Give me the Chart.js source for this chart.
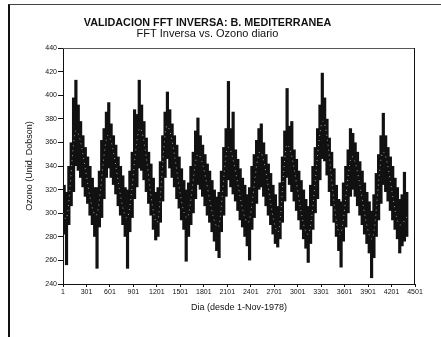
<!DOCTYPE html>
<html>
<head>
<meta charset="utf-8">
<script src="https://cdn.jsdelivr.net/npm/chart.js"></script>
<style>
    body { margin: 0; background: #fff; }
    #frame {
        position: absolute;
        left: 8px;
        top: 4px;
        width: 433px;
        height: 333px;
        border-left: 2px solid #111;
        border-top: 1px solid #444;
        box-sizing: border-box;
    }
    #chart { position: absolute; left: 0; top: 0; }
</style>
</head>
<body>
<div id="frame"></div>
<canvas id="chart" width="441" height="337"></canvas>
<script>
// centro de cada tramo de 30 dias (dia desde 1-Nov-1978)
const dias = [
    16, 46, 76, 106, 136, 166, 196, 226, 256, 286,
    316, 346, 376, 406, 436, 466, 496, 526, 556, 586,
    616, 646, 676, 706, 736, 766, 796, 826, 856, 886,
    916, 946, 976, 1006, 1036, 1066, 1096, 1126, 1156, 1186,
    1216, 1246, 1276, 1306, 1336, 1366, 1396, 1426, 1456, 1486,
    1516, 1546, 1576, 1606, 1636, 1666, 1696, 1726, 1756, 1786,
    1816, 1846, 1876, 1906, 1936, 1966, 1996, 2026, 2056, 2086,
    2116, 2146, 2176, 2206, 2236, 2266, 2296, 2326, 2356, 2386,
    2416, 2446, 2476, 2506, 2536, 2566, 2596, 2626, 2656, 2686,
    2716, 2746, 2776, 2806, 2836, 2866, 2896, 2926, 2956, 2986,
    3016, 3046, 3076, 3106, 3136, 3166, 3196, 3226, 3256, 3286,
    3316, 3346, 3376, 3406, 3436, 3466, 3496, 3526, 3556, 3586,
    3616, 3646, 3676, 3706, 3736, 3766, 3796, 3826, 3856, 3886,
    3916, 3946, 3976, 4006, 4036, 4066, 4096, 4126, 4156, 4186,
    4216, 4246, 4276, 4306, 4336, 4366, 4396
];

// ozono diario: minimo y maximo de cada tramo
const ozonoMin = [
    282, 256, 290, 306, 318, 340, 336, 330, 322, 314,
    308, 298, 290, 280, 253, 288, 296, 312, 330, 338,
    330, 324, 316, 306, 298, 290, 280, 253, 284, 296,
    312, 322, 338, 336, 328, 318, 308, 298, 286, 277,
    280, 292, 310, 330, 346, 338, 330, 322, 312, 304,
    294, 286, 259, 280, 290, 300, 312, 324, 320, 314,
    306, 298, 292, 284, 276, 268, 262, 284, 298, 314,
    328, 322, 316, 310, 302, 294, 288, 280, 272, 260,
    286, 296, 308, 320, 322, 314, 306, 298, 290, 282,
    274, 271, 278, 292, 310, 330, 324, 318, 310, 302,
    294, 286, 278, 270, 258, 274, 286, 300, 312, 328,
    346, 344, 332, 318, 306, 292, 280, 268, 254, 276,
    288, 300, 314, 320, 314, 306, 298, 290, 282, 274,
    266, 245, 262, 280, 294, 308, 324, 318, 310, 302,
    294, 286, 278, 266, 272, 276, 280
];
const ozonoMax = [
    324, 318, 340, 360, 398, 413, 392, 378, 366, 356,
    348, 340, 330, 322, 322, 336, 362, 372, 386, 394,
    376, 366, 358, 348, 340, 332, 322, 320, 336, 352,
    388, 384, 413, 392, 378, 364, 352, 342, 330, 318,
    322, 344, 366, 386, 403, 388, 376, 366, 358, 348,
    338, 328, 320, 326, 340, 352, 370, 381, 366, 358,
    350, 342, 336, 328, 320, 314, 318, 336, 356, 372,
    412, 372, 386, 354, 346, 338, 330, 324, 316, 322,
    340, 350, 362, 372, 376, 360, 350, 342, 334, 324,
    316, 306, 326, 348, 370, 406, 374, 378, 354, 346,
    336, 328, 320, 312, 306, 324, 340, 356, 372, 392,
    419, 398, 380, 364, 352, 338, 324, 312, 310, 326,
    340, 354, 372, 368, 360, 352, 344, 336, 326, 318,
    310, 302, 316, 334, 350, 366, 385, 366, 356, 348,
    340, 330, 322, 312, 316, 335, 318
];

// FFT inversa: maximos y minimos de la curva suavizada
const diasFFT = [1, 39, 167, 423, 576, 819, 985, 1203, 1330, 1586, 1727, 1983, 2110,
    2366, 2519, 2750, 2865, 3133, 3325, 3542, 3696, 3951, 4092, 4309, 4411];
const fftInversa = [300, 295, 370, 298, 366, 296, 372, 292, 374, 296, 350, 288, 356,
    292, 352, 284, 358, 282, 378, 282, 348, 278, 352, 290, 298];

const ticksX = [1, 301, 601, 901, 1201, 1501, 1801, 2101, 2401, 2701, 3001, 3301, 3601, 3901, 4201, 4501];

const FONT = 'Liberation Sans, Arial, sans-serif';

const plotFrame = {
    id: 'plotFrame',
    afterDraw(chart) {
        const {ctx, chartArea: a} = chart;
        ctx.save();
        ctx.lineWidth = 1;
        ctx.strokeStyle = '#555';
        ctx.beginPath();
        ctx.moveTo(a.left, a.top + 0.5);
        ctx.lineTo(a.right, a.top + 0.5);
        ctx.stroke();
        ctx.strokeStyle = '#111';
        ctx.beginPath();
        ctx.moveTo(a.right - 0.5, a.top);
        ctx.lineTo(a.right - 0.5, a.bottom);
        ctx.stroke();
        ctx.restore();
    }
};

new Chart(document.getElementById('chart'), {
    type: 'bar',
    data: {
        datasets: [{
            type: 'line',
            label: 'FFT Inversa',
            data: diasFFT.map((d, i) => ({x: d, y: fftInversa[i]})),
            borderColor: 'rgba(255,255,255,0.6)',
            borderWidth: 1,
            borderDash: [1, 4],
            pointRadius: 0,
            cubicInterpolationMode: 'monotone',
            order: 0
        }, {
            label: 'Ozono diario',
            data: dias.map((d, i) => ({x: d, y: [ozonoMin[i], ozonoMax[i]]})),
            backgroundColor: '#111',
            borderWidth: 0,
            barThickness: 3.2,
            inflateAmount: 0,
            order: 1
        }]
    },
    options: {
        responsive: false,
        animation: false,
        layout: { padding: { left: 0, right: 26, top: 0, bottom: 0 } },
        plugins: {
            legend: { display: false },
            tooltip: { enabled: false },
            title: {
                display: true,
                text: 'VALIDACION FFT INVERSA: B. MEDITERRANEA',
                color: '#111',
                font: { family: FONT, size: 10.8, weight: 'bold', lineHeight: 1 },
                padding: { top: 18, bottom: 0 }
            },
            subtitle: {
                display: true,
                text: 'FFT Inversa vs. Ozono diario',
                color: '#111',
                font: { family: FONT, size: 11, lineHeight: 1 },
                padding: { top: 0, bottom: 8.2 }
            }
        },
        scales: {
            x: {
                type: 'linear',
                min: 1,
                max: 4501,
                offset: false,
                afterBuildTicks: s => { s.ticks = ticksX.map(v => ({value: v})); },
                afterFit: s => { s.height = 53; },
                ticks: {
                    color: '#111',
                    font: { family: FONT, size: 7 },
                    padding: 1,
                    maxRotation: 0,
                    autoSkip: false,
                    callback: v => String(v)
                },
                grid: { display: true, drawOnChartArea: false, tickLength: 3, color: '#111', offset: false },
                border: { display: true, color: '#111', width: 1 },
                title: {
                    display: true,
                    text: 'Dia (desde 1-Nov-1978)',
                    color: '#111',
                    font: { family: FONT, size: 9 },
                    padding: { top: 0, bottom: 23.6 }
                }
            },
            y: {
                min: 240,
                max: 440,
                afterFit: s => { s.width = 63; },
                ticks: {
                    stepSize: 20,
                    color: '#111',
                    font: { family: FONT, size: 7 },
                    padding: 1
                },
                grid: { display: true, drawOnChartArea: false, tickLength: 5, color: '#111' },
                border: { display: true, color: '#111', width: 1 },
                title: {
                    display: true,
                    text: 'Ozono (Unid. Dobson)',
                    color: '#111',
                    font: { family: FONT, size: 9 },
                    padding: { top: 24.6, bottom: 0 }
                }
            }
        }
    },
    plugins: [plotFrame]
});
</script>
</body>
</html>
